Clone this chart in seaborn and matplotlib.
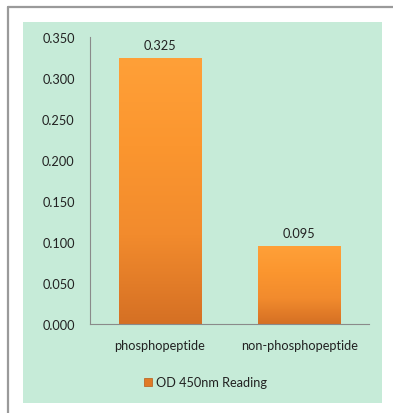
import numpy as np
import pandas as pd
import seaborn as sns
import matplotlib
matplotlib.use("Agg")
import matplotlib.pyplot as plt
from matplotlib.patches import Rectangle
from matplotlib.lines import Line2D
from matplotlib.colors import LinearSegmentedColormap

categories = ["phosphopeptide", "non-phosphopeptide"]
values = [0.325, 0.095]
value_labels = ["0.325", "0.095"]
series_name = "OD 450nm Reading"
y_ticks = [0.0, 0.05, 0.10, 0.15, 0.20, 0.25, 0.30, 0.35]

sns.set_theme(style="white")
plt.rcParams['font.family'] = ['Lato', 'DejaVu Sans']

W, H = 393, 414
FS = 9.2
fig = plt.figure(figsize=(W / 100, H / 100), dpi=100)
fig.patch.set_facecolor("white")

# outer frame lines and green panel
fig.add_artist(Line2D([7.5 / W, 1.0], [1 - 7.5 / H, 1 - 7.5 / H], transform=fig.transFigure,
                      color="#9a9a9a", lw=1.6))
fig.add_artist(Line2D([7.5 / W, 7.5 / W], [0, 1 - 7.5 / H], transform=fig.transFigure,
                      color="#9a9a9a", lw=1.6))
fig.add_artist(Rectangle((23 / W, 1 - 404 / H), (382 - 23) / W, (404 - 23) / H,
                         transform=fig.transFigure, facecolor="#c6ebd8", edgecolor="none", zorder=0))

ax = fig.add_axes([90 / W, 1 - 325 / H, (369 - 90) / W, (325 - 38) / H])
ax.set_facecolor("none")

df = pd.DataFrame({"category": categories, "value": values})
sns.barplot(data=df, x="category", y="value", ax=ax, color="#f08a2c", width=0.59,
            saturation=1, edgecolor="#c0621c", linewidth=0.6)

cmap = LinearSegmentedColormap.from_list("og", ["#d57024", "#f28b2d", "#fb962f", "#ffa038"])
grad = np.linspace(0, 1, 256).reshape(-1, 1)
for bar in ax.patches:
    x0, y0 = bar.get_x(), bar.get_y()
    w, h = bar.get_width(), bar.get_height()
    im = ax.imshow(grad, extent=[x0, x0 + w, y0, y0 + h], origin="lower", cmap=cmap,
                   aspect="auto", zorder=bar.get_zorder() + 0.1)
    im.set_clip_path(bar)

for i, (v, lab) in enumerate(zip(values, value_labels)):
    ax.annotate(lab, (i, v), xytext=(0, 5), textcoords="offset points",
                ha="center", va="bottom", fontsize=FS, color="#222222")

ax.set_xlim(-0.5, 1.5)
ax.set_ylim(0, 0.35)
ax.set_yticks(y_ticks)
ax.set_yticklabels([f"{t:.3f}" for t in y_ticks])
ax.set_xlabel("")
ax.set_ylabel("")
ax.tick_params(axis="y", length=0, pad=11, labelsize=FS, labelcolor="#222222")
ax.tick_params(axis="x", length=0, pad=11, labelsize=FS, labelcolor="#222222")
for s in ["top", "right"]:
    ax.spines[s].set_visible(False)
ax.spines["left"].set_color("#8a8a8a")
ax.spines["bottom"].set_color("#8a8a8a")
ax.spines["left"].set_linewidth(0.8)
ax.spines["bottom"].set_linewidth(0.8)

handle = Line2D([], [], marker="s", linestyle="none", markersize=6,
                markerfacecolor="#e07a26", markeredgecolor="#b85a18", markeredgewidth=0.5)
fig.legend([handle], [series_name], loc="center", bbox_to_anchor=(204 / W, 1 - 383 / H),
           frameon=False, fontsize=FS, handletextpad=0.1, handlelength=1.0,
           labelcolor="#222222")

fig.savefig("out.png", dpi=100)
